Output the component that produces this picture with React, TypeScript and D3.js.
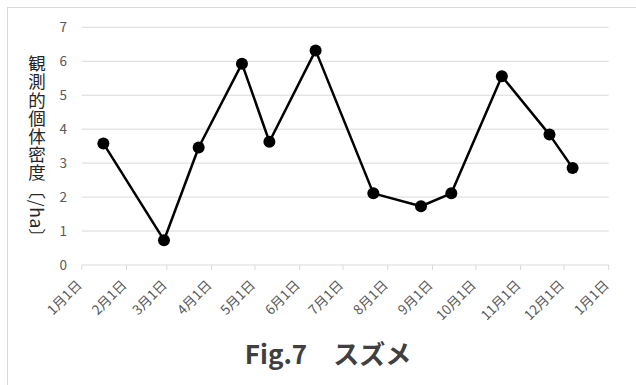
import React from "react";
import * as d3 from "d3";

// Observation dates (2019) and observed density per hectare
const dates = [
  "2019-01-16", "2019-02-27", "2019-03-23", "2019-04-22", "2019-05-11", "2019-06-12",
  "2019-07-22", "2019-08-24", "2019-09-14", "2019-10-19", "2019-11-21", "2019-12-07",
];
const densities = [3.58, 0.73, 3.46, 5.93, 3.63, 6.32, 2.11, 1.73, 2.11, 5.56, 3.84, 2.86];
const yTicks = [0, 1, 2, 3, 4, 5, 6, 7];
const title = "Fig.7\u3000スズメ";
const yLabel = "観測的個体密度〔/ha〕";

const W = 636;
const H = 385;
const plot = { left: 81.7, right: 608.7, top: 27.3, bottom: 265 };

export default function App() {
  const parse = d3.timeParse("%Y-%m-%d");
  const start = new Date(2019, 0, 1);
  const end = new Date(2020, 0, 1);
  const x = d3.scaleTime().domain([start, end]).range([plot.left, plot.right]);
  const y = d3.scaleLinear().domain([0, 7]).range([plot.bottom, plot.top]);
  const months = d3.timeMonth.range(start, d3.timeDay.offset(end, 1));
  const pts = dates.map((d, i) => ({ d: parse(d) as Date, v: densities[i] }));
  const line = d3
    .line<{ d: Date; v: number }>()
    .x((p) => x(p.d))
    .y((p) => y(p.v));
  const fmt = (d: Date) => `${d.getMonth() + 1}月${d.getDate()}日`;
  const font = "'Noto Sans CJK JP', 'Noto Sans', sans-serif";

  return (
    <svg
      width={W}
      height={H}
      style={{ position: "absolute", left: 0, top: 0, background: "#fff" }}
      fontFamily={font}
    >
      <rect x={0} y={0} width={W} height={H} fill="#fff" />
      <rect x={7.5} y={7.5} width={W + 20} height={H + 20} fill="none" stroke="#d9d9d9" strokeWidth={1} />
      {yTicks.map((t) => (
        <g key={t}>
          {t > 0 && (
            <line x1={plot.left} x2={plot.right} y1={y(t)} y2={y(t)} stroke="#d9d9d9" strokeWidth={1} />
          )}
          <text x={67} y={y(t)} dy="0.36em" textAnchor="end" fontSize={13.5} fill="#595959">
            {t}
          </text>
        </g>
      ))}
      <line x1={plot.left} x2={plot.right} y1={plot.bottom} y2={plot.bottom} stroke="#d9d9d9" strokeWidth={1} />
      {months.map((m, i) => (
        <g key={i} transform={`translate(${x(m)},${plot.bottom})`}>
          <line y1={0} y2={5} stroke="#d9d9d9" strokeWidth={1} />
          <text
            transform="translate(1,21) rotate(-45)"
            textAnchor="end"
            fontSize={13.5}
            fill="#595959"
          >
            {fmt(m)}
          </text>
        </g>
      ))}
      <path d={line(pts) ?? ""} fill="none" stroke="#000" strokeWidth={2.5} strokeLinejoin="round" />
      {pts.map((p, i) => (
        <circle key={i} cx={x(p.d)} cy={y(p.v)} r={6} fill="#000" />
      ))}
      <text
        x={37}
        y={55}
        fontSize={17.5}
        fill="#262626"
        letterSpacing={0.6}
        style={{ writingMode: "vertical-rl" } as React.CSSProperties}
      >
        {yLabel}
      </text>
      <text x={328} y={364} textAnchor="middle" fontSize={26} fontWeight="bold" fill="#404040">
        {title}
      </text>
    </svg>
  );
}
